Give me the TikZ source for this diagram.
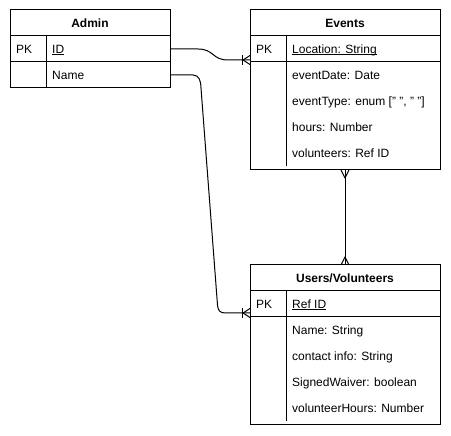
\documentclass[tikz,border=0pt]{standalone}
\usepackage{fontspec}
\setmainfont{Liberation Sans}
\usetikzlibrary{calc}
\newcommand{\myul}[1]{\setbox0\hbox{#1}\rlap{\rule[-1.8pt]{\wd0}{0.6pt}}\box0}
\begin{document}
\begin{tikzpicture}[x=1pt,y=-1pt,
  conn/.style={line width=1pt, line join=round},
  tbl/.style={draw, line width=1pt, rectangle, anchor=north west, inner sep=0pt, outer sep=0pt},
  rowline/.style={draw, line width=1pt, rectangle, anchor=north west, inner sep=0pt, outer sep=0pt, minimum height=26pt},
  rowfree/.style={rectangle, anchor=north west, inner sep=0pt, outer sep=0pt, minimum height=26pt},
  ttl/.style={font=\fontsize{12}{14}\selectfont\bfseries, anchor=base, inner sep=0pt},
  txt/.style={font=\fontsize{12}{14}\selectfont, anchor=base west, inner sep=0pt},
  crowL/.pic={\draw[conn] (0,-4.5) -- (-7,0) -- (0,4.5);},
  barL/.pic={\draw[conn] (-7.5,-5) -- (-7.5,5);},
  crowBelow/.pic={\draw[conn] (-4,0) -- (0,8) -- (4,0);},
  crowAbove/.pic={\draw[conn] (-4,0) -- (0,-8) -- (4,0);},
]
\useasboundingbox (0,0) rectangle (451,436);

% ---- Admin ----
\node[tbl, minimum width=160pt, minimum height=78pt] (admin) at (10,10) {};
\node[ttl] (admintitle) at (90,27.3) {Admin};
\node[rowline, minimum width=160pt] (adminid) at (10,36) {};
\node[rowfree, minimum width=160pt] (adminname) at (10,62) {};
\draw[conn] (46,36) -- (46,88);
\node[txt] (adminpk) at (16,53.3) {PK};
\node[txt] (adminidt) at (52,53.3) {\myul{ID}};
\node[txt] (adminnamet) at (52,79.3) {Name};

% ---- Events ----
\node[tbl, minimum width=190pt, minimum height=160pt] (evt) at (250,10) {};
\node[ttl] (evttitle) at (345,27.3) {Events};
\node[rowline, minimum width=190pt] (evpk) at (250,36) {};
\draw[conn] (286,36) -- (286,166);
\node[txt] (evpkt) at (256,53.3) {PK};
\node[txt] (evloc) at (292,53.3) {\myul{Location: String}};
\node[txt] (evdate) at (292,79.3) {eventDate: Date};
\node[txt] (evtype) at (292,105.3) {eventType: enum [" ", " "]};
\node[txt] (evhours) at (292,131.3) {hours: Number};
\node[txt] (evvol) at (292,157.3) {volunteers: Ref ID};

% ---- Users/Volunteers ----
\node[tbl, minimum width=190pt, minimum height=160pt] (usr) at (250,265) {};
\node[ttl] (usrtitle) at (345,282.3) {Users/Volunteers};
\node[rowline, minimum width=190pt] (uspk) at (250,291) {};
\draw[conn] (286,291) -- (286,421);
\node[txt] (uspkt) at (256,308.3) {PK};
\node[txt] (usref) at (292,308.3) {\myul{Ref ID}};
\node[txt] (usname) at (292,334.3) {Name: String};
\node[txt] (uscontact) at (292,360.3) {contact info: String};
\node[txt] (uswaiver) at (292,386.3) {SignedWaiver: boolean};
\node[txt] (ushours) at (292,412.3) {volunteerHours: Number};

% ---- connectors ----
\coordinate (e1end) at ($(evpk.west)+(0,11)$);
\coordinate (e2end) at ($(uspk.west)+(0,9)$);

\draw[conn] (adminid.east) -- ++(28,0) .. controls +(16,0) and +(-16,0) .. ($(e1end)+(-22,0)$) -- (e1end);
\pic at (e1end) {crowL};
\pic at (e1end) {barL};

\draw[conn] (adminname.east) -- ++(23,0) .. controls +(6,0) and +(0,-7) .. ++(8,13)
  -- ($(uspk.west)+(-32.5,1)$) .. controls +(0.5,6) and +(-6,0) .. ($(uspk.west)+(-24,9)$) -- (e2end);
\pic at (e2end) {crowL};
\pic at (e2end) {barL};

\draw[conn] (evt.south) -- (usr.north);
\pic at (evt.south) {crowBelow};
\pic at (usr.north) {crowAbove};
\end{tikzpicture}
\end{document}
